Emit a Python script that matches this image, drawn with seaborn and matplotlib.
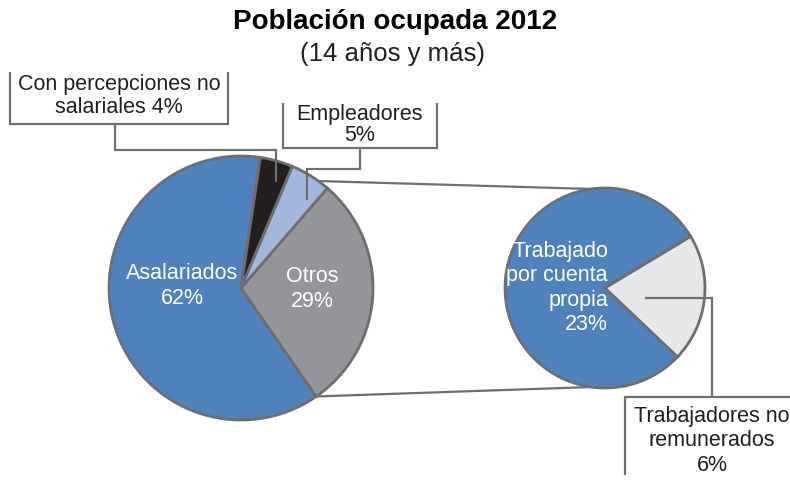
import numpy as np
import seaborn as sns
import matplotlib.pyplot as plt

# Datos
main_labels = ["Asalariados", "Otros", "Empleadores", "Con percepciones no salariales"]
main_values = [62, 29, 5, 4]
main_colors = ["#4F81BD", "#939598", "#A3B6DE", "#231F20"]

sub_labels = ["Trabajado por cuenta propia", "Trabajadores no remunerados"]
sub_values = [23, 6]
sub_colors = ["#4F81BD", "#E6E7E8"]

sns.set_theme(style="white")
plt.rcParams['font.family'] = ['Liberation Sans', 'DejaVu Sans']

W, H = 790, 480
fig = plt.figure(figsize=(7.9, 4.8), dpi=100)
ax = fig.add_axes([0, 0, 1, 1])

edge = "#6D6E71"
dark = "#231F20"
wprops = dict(edgecolor=edge, linewidth=2)
fs = 15.5

# pie principal
c1, r1 = (241, H - 288), 132
start = 90 - 360 * 0.0235
wedges1, _ = ax.pie(main_values, colors=main_colors, startangle=start, counterclock=True,
                    center=c1, radius=r1, wedgeprops=wprops, frame=True)

# pie secundario
c2, r2 = (605, H - 288), 100
sub_start = 31
wedges2, _ = ax.pie(sub_values, colors=sub_colors, startangle=sub_start, counterclock=True,
                    center=c2, radius=r2, wedgeprops=wprops, frame=True)
ax.set_xlim(0, W)
ax.set_ylim(0, H)
ax.set_aspect('equal')
ax.axis('off')

# líneas que unen "Otros" con el pie secundario
otros = wedges1[1]
for ang1, ang2 in [(otros.theta2 + 5, 98), (otros.theta1, 262)]:
    p1 = (c1[0] + r1 * np.cos(np.radians(ang1)), c1[1] + r1 * np.sin(np.radians(ang1)))
    p2 = (c2[0] + r2 * np.cos(np.radians(ang2)), c2[1] + r2 * np.sin(np.radians(ang2)))
    ax.plot([p1[0], p2[0]], [p1[1], p2[1]], color=edge, lw=1.6, zorder=0)

def y(v):
    return H - v

lkw = dict(color=edge, lw=1.6, solid_capstyle='butt', solid_joinstyle='miter')

# recuadro "Con percepciones no salariales"
ax.plot([10, 10, 228, 228], [y(72), y(124), y(124), y(72)], **lkw)
ax.plot([115, 115, 276, 276], [y(124), y(150), y(150), y(182)], **lkw)
ax.text(119, y(96), "Con percepciones no\nsalariales {}%".format(main_values[3]),
        ha='center', va='center', fontsize=fs, color=dark, linespacing=1.15)

# recuadro "Empleadores"
ax.plot([283, 283, 437, 437], [y(103), y(148), y(148), y(103)], **lkw)
ax.plot([360, 360, 307, 307], [y(148), y(169), y(169), y(200)], **lkw)
ax.text(360, y(125), "{}\n{}%".format(main_labels[2], main_values[2]),
        ha='center', va='center', fontsize=fs, color=dark, linespacing=1.05)

# recuadro "Trabajadores no remunerados"
ax.plot([645, 712, 712], [y(298), y(298), y(397)], **lkw)
ax.plot([625, 625, 790], [y(475), y(397), y(397)], **lkw)
ax.text(712, y(441), "Trabajadores no\nremunerados\n{}%".format(sub_values[1]),
        ha='center', va='center', fontsize=fs, color=dark, linespacing=1.2)

# etiquetas dentro de los pies
ax.text(182, y(286), "{}\n{}%".format(main_labels[0], main_values[0]),
        ha='center', va='center', fontsize=fs, color='white', linespacing=1.2)
ax.text(312, y(289), "{}\n{}%".format(main_labels[1], main_values[1]),
        ha='center', va='center', fontsize=fs, color='white', linespacing=1.2)
ax.text(608, y(288), "Trabajado\npor cuenta\npropia\n{}%".format(sub_values[0]),
        ha='right', va='center', fontsize=fs, color='white', linespacing=1.2)

# título
ax.text(395, y(22), "Población ocupada 2012", ha='center', va='center',
        fontsize=20, fontweight='bold', color='black')
ax.text(393, y(54), "(14 años y más)", ha='center', va='center',
        fontsize=18.5, color=dark)

fig.savefig("out.png", dpi=100)
